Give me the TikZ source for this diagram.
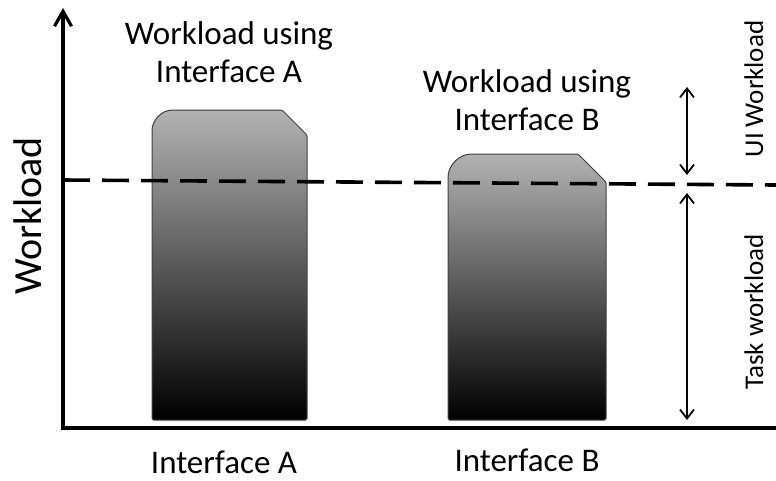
\documentclass[tikz,border=0pt]{standalone}
\usepackage{fontspec}
\setmainfont{Carlito}
\usetikzlibrary{arrows.meta}
\begin{document}
\begin{tikzpicture}[x=1pt,y=-1pt,
  axisline/.style={line width=3.2pt, black, line join=miter},
  levelline/.style={line width=3.6pt, black, dash pattern=on 27pt off 12pt},
  bar/.style={draw=black!75, line width=1pt, top color=black!30, bottom color=black, rounded corners=1.5pt},
  span/.style={line width=1.8pt, {Straight Barb[length=9pt,width=14pt]}-{Straight Barb[length=9pt,width=14pt]}},
  lbl/.style={font=\fontsize{33}{32}\selectfont, inner sep=0pt, anchor=base},
  side/.style={font=\fontsize{27}{30}\selectfont, rotate=90, inner sep=0pt, anchor=base},
]
\useasboundingbox (0,0) rectangle (776,480);

% workload bars
\draw[bar] (152,420) -- (152,132) .. controls (152,119.9) and (161.9,110) .. (174,110)
  -- (282,110) -- (307,135) -- (307,420) -- cycle;
\draw[bar] (448,420) -- (448,179) .. controls (448,165.2) and (459.2,154) .. (473,154)
  -- (578,154) -- (606,182) -- (606,420) -- cycle;

% axes
\coordinate (ytip) at (63,8);
\coordinate (origin) at (63,428);
\coordinate (xend) at (776,428);
\draw[axisline, {Straight Barb[length=15pt,width=17pt]}-] (ytip) -- (origin) -- (xend);

% task level
\coordinate (dashL) at (63,180);
\coordinate (dashR) at (776,185);
\draw[levelline] (dashL) -- (dashR);

% workload spans
\coordinate (uiTop) at (687,87);
\coordinate (uiBot) at (687,175);
\coordinate (taskTop) at (687,193);
\coordinate (taskBot) at (687,420);
\draw[span] (uiTop) -- (uiBot);
\draw[span] (taskTop) -- (taskBot);

% labels
\node[lbl] (titleA1) at (229,44) {Workload using};
\node[lbl] (titleA2) at (229,82) {Interface A};
\node[lbl] (titleB1) at (527,92) {Workload using};
\node[lbl] (titleB2) at (527,130) {Interface B};
\node[lbl] (axisA) at (224,473) {Interface A};
\node[lbl] (axisB) at (527,471) {Interface B};
\node[side, font=\fontsize{40}{44}\selectfont] (ylabel) at (41,216) {Workload};
\node[side] (uiLabel) at (763,89) {UI Workload};
\node[side] (taskLabel) at (763,312) {Task workload};
\end{tikzpicture}
\end{document}
